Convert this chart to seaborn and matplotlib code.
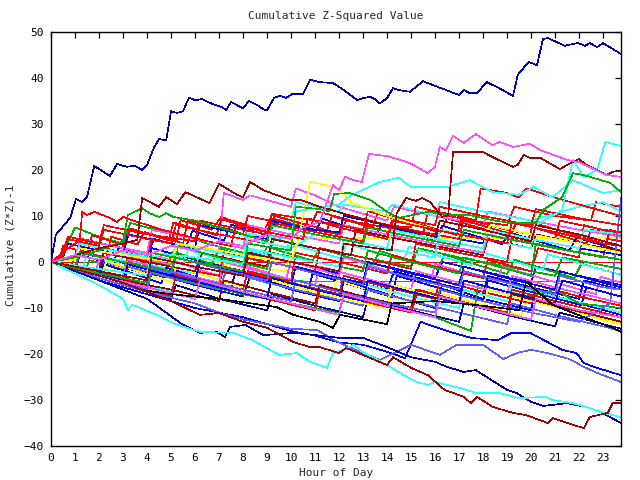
import matplotlib
matplotlib.use("Agg")
import matplotlib.pyplot as plt
import seaborn as sns
import pandas as pd

# ---------------- data ----------------
blue_top_t = [0, 0.2, 0.8, 1.04, 1.3, 1.5, 1.8, 2.46, 2.75, 3.15, 3.5, 3.8, 4.0, 4.3, 4.5, 4.8, 5.0, 5.25, 5.5, 5.75,
              6.0, 6.3, 6.75, 7.15, 7.3, 7.5, 8.0, 8.25, 8.6, 8.85, 9.0, 9.3, 9.55, 9.8, 10.05, 10.5, 10.8, 11.2, 11.75, 12.2,
              12.75, 13.0, 13.3, 13.5, 13.7, 14.0, 14.25, 14.45, 14.96, 15.5, 16.0, 17.0, 17.2, 17.45, 17.75, 18.15, 18.6, 19.25, 19.45, 19.9,
              20.25, 20.5, 20.7, 21.4, 21.95, 22.25, 22.45, 22.75, 23.0, 23.75]
blue_top_v = [0, 5.9, 9.6, 13.7, 13.0, 14.1, 20.9, 18.7, 21.3, 20.7, 20.9, 20.0, 21.1, 25.0, 26.7, 26.5, 32.8, 32.4, 32.8, 35.7,
              35.2, 35.4, 34.3, 33.6, 33.0, 34.8, 33.4, 35.0, 34.1, 33.2, 33.0, 35.7, 36.1, 35.7, 36.5, 36.5, 39.6, 39.1, 38.9, 37.4,
              35.2, 35.6, 35.9, 35.4, 34.5, 35.6, 37.8, 37.4, 37.0, 39.3, 38.3, 36.3, 37.4, 36.7, 36.7, 39.1, 38.0, 36.1, 40.7, 43.5,
              42.8, 48.5, 48.7, 47.0, 47.6, 47.0, 47.6, 46.7, 47.6, 45.2]

magenta_top_t = [0, 1, 2, 3, 4, 5, 6, 7, 8, 9, 10, 10.5, 11.2, 11.75, 12.0, 12.25, 12.6, 12.95, 13.25, 14.05,
                 14.96, 15.7, 16.0, 16.2, 16.45, 16.75, 17.2, 17.7, 18.4, 18.7, 19.25, 19.95, 20.4, 21.5, 22.0, 23.15, 23.75]
magenta_top_v = [0, 1.5, 0.5, 2.5, 1.5, 3.5, 2.5, 4.5, 3.5, 6, 5, 7.5, 8.7, 16.7, 15.6, 18.5, 17.8, 17.4, 23.5, 23.0,
                 21.5, 19.3, 20.7, 25.0, 24.3, 27.4, 25.9, 27.8, 25.4, 26.1, 25.0, 25.7, 24.3, 22.2, 21.7, 18.9, 18.5]

darkred_top_t = [0, 2, 4, 4.2, 6, 8, 8.2, 10, 12, 12.2, 14.2, 14.4, 14.8, 15.2, 15.45, 15.8, 16.3, 16.55, 16.75, 18.0,
                 18.4, 19.25, 19.45, 19.7, 19.96, 20.4, 21.2, 21.5, 22.0, 22.3, 23.15, 23.4, 23.75]
darkred_top_v = [0, -2, -4, 1, -1, -3, 2, 0, -2, 4, 2.5, 10.6, 13.9, 13.3, 13.9, 13.0, 9.8, 10.2, 23.9, 23.9,
                 22.8, 20.7, 21.1, 23.3, 22.6, 22.6, 20.2, 21.1, 22.4, 21.1, 18.9, 19.6, 19.8]

darkred_mid_t = [0, 1, 2, 3, 3.6, 3.8, 4.5, 4.8, 5.25, 5.6, 6.6, 7.0, 7.75, 8.0, 8.3, 8.85, 9.96, 10.4, 11.2, 11.7,
                 12.25, 14, 16, 16.2, 18, 20, 20.2, 22, 23.75]
darkred_mid_v = [0, 1.5, 3, 4, 4.8, 13.9, 12.0, 14.1, 12.6, 15.2, 12.8, 17.0, 14.6, 14.1, 17.4, 15.6, 13.5, 13.5, 12.0, 11.3,
                 10.4, 8, 5.5, 9, 7, 4.5, 8, 6, 3.5]

red_hi_t = [0, 0.6, 1.2, 1.3, 1.5, 1.8, 2.45, 2.75, 3.0, 3.5, 4.5, 5.5, 6.5, 7.5, 7.7, 9, 10.5, 10.7, 12, 14,
            14.2, 16, 18, 19, 19.2, 21, 23, 23.75]
red_hi_v = [0, 2.5, 4.8, 10.9, 10.2, 10.9, 9.6, 8.7, 9.8, 8.9, 7.2, 5.8, 4.5, 3.5, 8, 6.5, 5, 9.5, 7.5, 5,
            9, 7, 5, 4, 8.5, 6.5, 4, 3.5]

green_hi_t = [0, 1, 2, 3.0, 3.2, 3.8, 4.1, 4.5, 4.8, 5.1, 6, 7, 8, 9, 9.2, 11, 13, 13.2, 15, 17, 17.2, 19, 21, 23.75]
green_hi_v = [0, 1, 2.5, 4.5, 10.2, 11.7, 10.6, 9.8, 10.6, 9.8, 9, 7.5, 6, 4.5, 8, 6, 4, 7.5, 5.5, 3.5, 7, 5, 3, 0.5]

green_late_t = [0, 2, 4, 4.2, 6, 8, 8.2, 10, 10.2, 11.2, 11.6, 11.8, 12.45, 13.3, 14.0, 14.5, 15.7, 16.6, 17.45, 18.4,
                19.1, 20.2, 20.5, 21.3, 21.75, 22.2, 23.3, 23.75]
green_late_v = [0, -2.5, -4.5, 2, 0, -2, 4, 2.5, 12, 11.5, 11, 14.8, 15.0, 13.5, 10.9, 9.6, 10.9, 10.2, 10.2, 9.1,
                8.5, 8.5, 11.3, 14.1, 19.3, 18.9, 17.2, 15.2]

cyan_end_t = [0, 2, 4, 4.2, 6, 8, 8.2, 10, 12, 12.2, 14, 16, 16.2, 18, 20, 20.2, 21.3, 21.75, 22.2, 22.75, 23.1, 23.75]
cyan_end_v = [0, -2, -4, 1, -1, -3, 3, 1, -1, 5, 3, 1, 7, 5, 3, 8, 11.3, 22.2, 18.5, 20, 26.1, 25.2]

cyan_mid_t = [0, 2, 4, 4.2, 6, 8, 8.2, 10, 10.2, 12, 12.5, 13.7, 14.5, 15.0, 16.5, 17.45, 18.4, 19.5, 20.1, 20.9,
              21.75, 23.0, 23.75]
cyan_mid_v = [0, -1.5, -3, 2, 1, -0.5, 6, 5, 11, 12.5, 14.5, 17.4, 18.3, 16.3, 16.3, 17.8, 15.2, 14.6, 16.3, 14.1,
              17.8, 15.0, 15.6]

darkred_bot_t = [0, 1, 2, 3, 4, 5, 6.2, 7.0, 8, 9, 10.1, 10.8, 11.2, 12, 12.3, 13, 14, 14.25, 15, 15.7,
                 16.4, 17.2, 17.5, 17.75, 18.4, 19.25, 19.8, 20.7, 20.9, 21.75, 22.2, 22.45, 23.2, 23.4, 23.75]
darkred_bot_v = [0, -1.5, -3, -4.5, -6.5, -8.5, -11.5, -11.1, -13, -14.3, -17.4, -18.5, -18.5, -19.8, -18.7, -20.2, -22.4, -20.7, -23.0, -24.6,
                 -27.8, -29.3, -30.7, -29.3, -31.5, -32.8, -33.3, -35.0, -33.9, -35.4, -36.1, -33.7, -32.8, -30.7, -30.7]

cyan_bot_t = [0, 1, 2, 3.0, 3.2, 3.4, 4.4, 5.1, 6.2, 7.6, 8.4, 9.5, 10.25, 10.8, 11.5, 11.75, 12.2, 12.6, 13.0, 14.0,
              14.7, 15.25, 15.7, 16.0, 17.05, 17.75, 18.7, 19.5, 20.6, 20.9, 21.75, 22.3, 23.0, 23.75]
cyan_bot_v = [0, -2.5, -5, -8, -10.4, -9.3, -11.5, -13.3, -15.2, -15.4, -17.0, -20.2, -19.8, -21.7, -23.0, -19.8, -19.1, -18.0, -19.6, -22.4,
              -24.6, -26.1, -26.7, -26.1, -27.4, -28.5, -28.5, -29.6, -29.3, -30.0, -30.7, -31.5, -32.8, -33.7]

navy_bot_t = [0, 2, 4, 5.4, 6.2, 6.9, 7.25, 7.46, 8.1, 8.85, 10.1, 11.2, 12, 13, 14, 15, 16, 16.5, 17.2, 17.7,
              19, 19.4, 20, 20.5, 21.5, 22.3, 22.9, 23.75]
navy_bot_v = [0, -4, -8, -13.3, -15.4, -15.2, -16.3, -14.1, -13.7, -15.9, -15.4, -16, -16.5, -16.5, -18.5, -20.7, -21.7, -22.8, -23.9, -23.5,
              -27.8, -28.5, -30.4, -31.3, -30.7, -31.5, -32.6, -35]

lblue_bot_t = [0, 2, 4, 6, 7, 8, 9, 10, 11.1, 11.8, 12.2, 13.7, 14.3, 15, 16.2, 16.9, 18, 18.85, 19.4, 20,
               20.7, 21.6, 22.2, 22.75, 23.75]
lblue_bot_v = [0, -3.5, -6.5, -9, -11, -12.5, -13.5, -14.5, -14.8, -17, -18, -21.3, -19.8, -18, -20.2, -18, -18, -21.1, -19.8, -19.1,
               -19.8, -21.1, -22.8, -24.1, -26.1]

blue_low_t = [0, 2, 4, 6, 8, 9, 10, 11, 12, 13, 14, 14.75, 15.4, 16.5, 17.5, 18.6, 19.2, 20, 21.3, 21.9, 22.2, 22.75, 23.3, 23.75]
blue_low_v = [0, -4, -7, -10, -12, -13.5, -15, -16, -17.5, -18, -19.5, -20.9, -13, -15, -16.5, -17, -15.4, -15.5, -19.1, -19.8, -22, -23, -23.9, -24.6]

black_t = [0, 2, 3.7, 5, 7, 9.4, 10.1, 11.2, 11.75, 12.05, 13, 14, 14.2, 16, 18, 19.5, 19.8, 20.9, 22.3, 23.4, 23.75]
black_v = [0, -3.5, -6, -7, -8, -9.8, -11.5, -13, -14.3, -11.5, -12.5, -13.5, -9, -8.5, -9.5, -10.5, -4.3, -9.3, -12.2, -14.3, -15.2]

red_zero_t = [0, 23.75]
red_zero_v = [0, 0]

yellow_flat_t = [0, 2, 4, 4.3, 6, 8, 9.8, 10, 23.75]
yellow_flat_v = [0, -1.5, -3, 2, 0.5, -1, -2, 5.2, 5.2]

green_flat_t = [0, 1, 2, 4, 4.2, 6, 8, 8.2, 10, 10.5, 23.75]
green_flat_v = [0, -1.5, -3, -5, -1, -3.5, -6, -2, -4, -4.2, -4.2]

yellow_peak_t = [0, 1, 1.2, 3, 5, 5.3, 7, 8, 10, 10.3, 10.8, 12, 12.5, 13, 14, 15, 16, 18, 18.3, 20, 22, 23.75]
yellow_peak_v = [0, 0.5, 3, 1.5, 0, 4, 2.5, 1.5, 0, 5, 17.5, 16, 13, 12, 10, 8.5, 7, 5, 8, 6, 4, 2]

# mass of ordinary walks
m01_t = [0, 1, 1.3, 3, 3.2, 5, 5.5, 5.7, 7.5, 8, 8.2, 10, 12, 12.3, 14, 15.5, 15.7, 17.5, 19, 19.3, 21, 22.5, 22.7, 23.75]
m01_v = [0, 1.5, 5, 3, 7, 5, 4, 9, 7, 6, 10, 8, 6, 9, 7.5, 6, 11, 9, 8, 12, 10, 9, 13, 12]
m02_t = [0, 1, 1.2, 2.5, 4, 4.2, 6, 8, 8.3, 10, 12, 12.2, 14, 16, 16.3, 18, 20, 20.2, 22, 23.75]
m02_v = [0, -1.5, 2, 0.5, -1.5, 3, 0.5, -2, 2, 0, -2.5, 1, -1, -3.5, 0, -2, -4.5, -1, -3, -5]
m03_t = [0, 0.5, 1.0, 2, 3, 3.3, 4, 5, 6, 6.5, 8, 9, 9.3, 11, 13, 15, 15.3, 17, 19, 21, 21.3, 23.75]
m03_v = [0, 2, 7.5, 5.5, 4, 8.5, 7.5, 6.5, 5, 4, 2, 1, 5, 3, 1, -1, 3, 1, -1, -3, 1, -1.5]
m04_t = [0, 1, 2, 2.2, 4, 5, 5.2, 7, 7.2, 8, 8.3, 10, 10.2, 11, 12, 13, 14, 14.3, 16, 18, 18.2, 20, 22, 23.75]
m04_v = [0, -1, -2, 2, 0.5, -0.5, 4, 2.5, 15, 13.5, 14.5, 12, 16, 14.5, 12, 10.5, 9, 12, 10, 8, 11, 9, 7, 5.5]
m05_t = [0, 2, 2.2, 4, 6, 6.2, 8, 8.2, 10, 10.2, 12, 12.2, 14, 14.2, 15, 16, 16.2, 18, 19, 20, 22, 23, 23.75]
m05_v = [0, -2, 1, -0.5, -2.5, 3, 1, 6, 9, 13, 11, 12.5, 11, 12.5, 11.5, 10, 13, 11, 10, 9, 12, 13, 11]
m06_t = [0, 1, 2, 2.2, 4, 4.2, 6, 6.2, 8, 9, 9.2, 11, 12, 12.2, 14, 15, 15.2, 16, 17, 17.7, 17.9, 19, 19.5, 19.8, 21, 22, 23.75]
m06_v = [0, -1, -1.8, 3, 1, 5, 3, 8, 6, 5, 9.5, 7, 6, 10, 8, 7.5, 12, 11, 10, 9, 16, 15, 14, 16, 14, 12.5, 10]
m07_t = [0, 1, 2, 3, 3.2, 5, 6, 6.2, 8, 10, 10.2, 12, 14, 14.3, 16, 18, 18.2, 20, 22, 22.2, 23.75]
m07_v = [0, -2, -4, -5.5, -1.5, -3.5, -5, 0, -2.5, -5, -1, -3.5, -6, -2, -4.5, -7, -3, -5.5, -8, -4, -6]
m08_t = [0, 1, 2, 3, 3.2, 5, 7, 7.2, 9, 11, 11.2, 13, 15, 15.2, 17, 19, 19.2, 21, 23, 23.2, 23.75]
m08_v = [0, -1, -2, -3.5, 1, -1, -3, 2, 0, -2, 3, 1, -1.5, 4, 2, 0, 5, 3, 1, 5, 4.5]
m09_t = [0, 1, 2, 2.2, 4, 6, 6.3, 8, 9, 9.2, 11, 12.5, 12.7, 14, 16, 18, 18.2, 20, 20.2, 22, 23.75]
m09_v = [0, -1, -2, 2, 0, -2, 2, 0, -1, 5, 3, 1.5, 7, 5.5, 3.5, 1.5, 5, 3, 6, 4, 2.5]
m10_t = [0, 1, 2, 4, 4.2, 6, 8, 8.3, 10, 12, 12.2, 14, 16, 16.3, 18, 20, 20.2, 22, 23.75]
m10_v = [0, -2, -3.5, -6.5, -2, -5, -7.5, -3, -6, -8.5, -4, -7, -10, -5, -8, -10.5, -6, -9, -11.5]
m11_t = [0, 1, 1.2, 3, 4, 4.2, 6, 8, 8.2, 10, 12, 12.2, 14, 16, 18, 18.2, 20, 22, 23.75]
m11_v = [0, 0.5, 5, 3, 2, 7, 5, 3, 8, 6, 4, 8, 6, 4, 2, 6, 4, 2, 0.5]
m12_t = [0, 1, 3, 3.2, 5, 7, 7.2, 9, 10, 10.2, 12, 14, 14.2, 16, 18, 18.2, 20, 20.3, 22, 22.2, 23.75]
m12_v = [0, -1.5, -4, 0, -2.5, -5, -1, -3.5, -4, 2, 0, -2.5, 1.5, -1, -3.5, 0.5, -2, 3, 1, 8, 6]
m13_t = [0, 1, 3, 5, 5.2, 7, 9, 9.2, 11, 13, 13.2, 15, 17, 17.2, 19, 19.2, 21, 23, 23.75]
m13_v = [0, -1.5, -4, -6.5, -3, -5.5, -8, -4, -6.5, -9, -5, -7.5, -10, -6, -8.5, -5, -7.5, -10, -11]
m14_t = [0, 0.5, 0.7, 2, 3, 3.2, 5, 6, 6.2, 8, 9, 9.2, 11, 12, 12.2, 14, 16, 18, 18.2, 20, 22, 23.75]
m14_v = [0, 1, 4, 2.5, 1.5, 6, 4, 3, 8, 6, 5, 9, 7, 6.5, 10, 8, 6, 4, 7, 5, 3, 1.5]
m15_t = [0, 1, 2, 3, 3.2, 5, 7, 7.3, 9, 11, 13, 13.2, 15, 17, 19, 19.2, 21, 23, 23.75]
m15_v = [0, -1.5, -3, -4, -1, -3.5, -6, -2, -4.5, -7, -9.5, -6, -8.5, -11, -13.5, -9, -11.5, -14, -15]
m16_t = [0, 2, 4, 4.2, 6, 8, 10, 12, 12.2, 14, 16, 17.5, 17.8, 19, 20, 21, 22, 23.75]
m16_v = [0, -3, -6, -2, -4.5, -7, -9, -11, -7, -9.5, -12, -15, -5, -6.5, -7.5, -6, -9, -10]
m17_t = [0, 1, 2, 4, 4.2, 6, 8, 8.2, 10, 12, 12.2, 14, 16, 16.2, 18, 20, 20.2, 22, 23.75]
m17_v = [0, -1, -2.5, -5, -1, -3.5, -6, -2, -4.5, -7, -3, -5.5, -8, -4, -6.5, -9, -5, -7.5, -9.5]
m18_t = [0, 1, 3, 5, 5.2, 7, 9, 9.2, 11, 13, 13.2, 15, 17, 17.2, 19, 21, 21.2, 23, 23.75]
m18_v = [0, -2, -5, -8, -5, -8, -10.5, -7, -9.5, -12, -8, -10.5, -13, -9, -11.5, -14, -11, -13.5, -14.5]
m19_t = [0, 1, 3, 3.2, 5, 7, 7.2, 9, 11, 11.2, 13, 15, 15.2, 17, 19, 19.2, 21, 23, 23.75]
m19_v = [0, -1, -3, 0.5, -2, -4.5, 0, -2.5, -5, -1, -3.5, -6, -2, -4.5, -7, -3, -5.5, -8, -9]
m20_t = [0, 0.5, 0.7, 2, 2.2, 4, 5, 5.2, 7, 9, 9.2, 11, 13, 13.2, 15, 17, 17.2, 19, 21, 21.2, 23, 23.75]
m20_v = [0, 1.5, 5, 3.5, 7, 5, 4, 8, 6, 4, 8.5, 6.5, 4.5, 9, 7, 5, 9.5, 7, 5, 9, 7, 6.5]
m21_t = [0, 2, 2.2, 4, 6, 6.2, 8, 10, 10.2, 12, 13, 13.2, 15, 17, 17.2, 19, 21, 21.2, 23, 23.75]
m21_v = [0, -3, 1, -1.5, -4, 0, -2.5, -5, -1, -3.5, -4.5, 0, -2.5, -5, -1, -3.5, -6, -2, -4.5, -5.5]
m22_t = [0, 1, 3, 5, 5.2, 7, 9, 9.2, 11, 13, 14, 14.2, 16, 18, 18.2, 20, 22, 23.75]
m22_v = [0, -1.5, -4.5, -7, -3, -5.5, -8, -4, -6.5, -9, -10, -5, -7.5, -10, -6, -8.5, -11, -13.5]
m23_t = [0, 1, 1.2, 3, 5, 5.2, 7, 8, 8.2, 10, 11, 12, 14, 14.2, 16, 18, 18.2, 20, 22, 22.2, 23.75]
m23_v = [0, 0.5, 4, 2, 0, 4, 2, 1, 5, 3, 6, 5, 3, 7, 5, 3, 7, 5, 3, 7, 6]
m24_t = [0, 1, 3, 5, 7, 7.2, 9, 11, 11.2, 13, 15, 15.2, 17, 19, 19.2, 21, 23, 23.75]
m24_v = [0, -1.5, -4, -6, -8.5, -4, -6.5, -9, -5, -7.5, -10, -6, -8.5, -11, -7, -9.5, -12, -13]
m25_t = [0, 1, 1.2, 3, 5, 5.2, 7, 9, 9.2, 11, 13, 13.2, 15, 17, 17.2, 19, 21, 21.2, 23, 23.75]
m25_v = [0, -1, 2, 0, -2.5, 1, -1.5, -4, 0, -2.5, -5, -1, -3.5, -6, -2, -4.5, -7, -3, -5.5, -6]
m26_t = [0, 2, 4, 4.2, 6, 8, 10, 10.2, 12, 14, 16, 16.2, 18, 20, 22, 23.3, 23.75]
m26_v = [0, -3, -6, -1, -3.5, -6, -8.5, -4, -6.5, -9, -11, -6, -8.5, -11, -13, -9, 14]
m27_t = [0, 1, 1.2, 3, 5, 5.3, 7, 9, 9.2, 11, 13, 13.2, 15, 17, 17.2, 19, 20, 20.2, 22, 23.75]
m27_v = [0, -1.5, 2, 0, -2, 3.5, 1, -1.5, 2, 0, -2, 2.5, 0, -2.5, 1, -1.5, -3, 4, 2, 0.5]
m28_t = [0, 1, 3, 5, 5.2, 7, 9, 11, 11.2, 13, 15, 15.3, 17, 19, 19.2, 21, 23, 23.75]
m28_v = [0, -2, -5, -7.5, -3, -5.5, -8, -10.5, -6, -8.5, -11, -6, -8.5, -11, -6, -8.5, -11, -12]
m29_t = [0, 1, 3, 3.2, 5, 7, 9, 9.2, 11, 13, 13.2, 15, 17, 17.2, 19, 21, 21.3, 23, 23.75]
m29_v = [0, -1.5, -4, -0.5, -3, -5.5, -8, -3.5, -6, -8.5, -4, -6.5, -9, -4, -6.5, -9, -4, -6.5, -7.5]
m30_t = [0, 2, 4, 6, 6.2, 8, 10, 12, 12.2, 14, 16, 16.2, 18, 20, 20.2, 22, 23.75]
m30_v = [0, -3, -5.5, -8, -4, -6.5, -9, -11.5, -7, -9.5, -12, -7.5, -10, -12.5, -8, -10.5, -12]
m31_t = [0, 0.5, 0.7, 2, 2.2, 4, 6, 6.2, 8, 9, 9.2, 11, 13, 13.2, 15, 16, 16.2, 18, 20, 20.2, 22, 23.75]
m31_v = [0, 2, 5.5, 4, 8, 6, 4.5, 9, 7, 6, 10.5, 9, 7, 11, 9, 8, 12, 10, 8, 11.5, 9.5, 8]

n01_t = [0, 0.4, 0.8, 1.1, 1.3, 1.8, 2.3, 2.5, 3.1, 3.6, 3.9, 4.5, 5.2, 5.4, 6, 6.7, 7.1, 7.4, 8.2, 8.9,
         9.2, 10, 10.8, 11.1, 12.5, 13.4, 13.6, 15, 16.2, 16.5, 18, 19.1, 19.4, 21, 22.3, 22.5, 23.75]
n01_v = [0, -0.5, -1.2, 2.8, 2.4, 1.6, 0.9, 5.5, 4.6, 3.8, 6.5, 5.6, 4.4, 9.1, 8.2, 7.0, 9.8, 9.2, 8.0, 6.9,
         10.2, 9.0, 7.7, 11.0, 9.0, 7.6, 10.5, 8.3, 6.4, 9.5, 7.2, 5.5, 8.6, 6.1, 4.0, 7.0, 5.8]
n02_t = [0, 0.3, 0.7, 1.0, 1.2, 1.7, 2.2, 2.6, 2.8, 3.4, 4.0, 4.3, 5.0, 5.6, 5.9, 6.5, 7.2, 7.5, 8.3, 9.0,
         9.4, 10.2, 11.0, 11.3, 12.4, 13.5, 13.8, 15.1, 16.0, 16.3, 17.6, 18.8, 19.1, 20.5, 21.6, 21.9, 23.0, 23.75]
n02_v = [0, -0.6, -1.4, -1.9, 1.5, 0.8, 0.1, -0.6, 3.2, 2.4, 1.5, 5.0, 4.0, 3.1, 6.8, 5.8, 4.7, 8.1, 6.9, 5.8,
         9.0, 7.8, 6.6, 9.4, 7.6, 5.9, 8.2, 6.2, 4.8, 7.9, 5.8, 3.9, 6.4, 4.2, 2.5, 5.3, 3.6, 2.4]
n03_t = [0, 0.5, 1.0, 1.4, 1.6, 2.3, 3.0, 3.3, 4.1, 4.8, 5.1, 5.9, 6.7, 7.0, 7.9, 8.7, 9.0, 10.0, 10.9, 11.2,
         12.3, 13.4, 13.7, 15.0, 16.1, 16.4, 17.8, 19.0, 19.3, 20.6, 21.8, 22.1, 23.75]
n03_v = [0, -0.8, -1.7, -2.4, 0.4, -0.6, -1.7, 1.6, 0.4, -0.8, 2.2, 0.9, -0.4, 2.9, 1.4, 0.1, 3.3, 1.7, 0.3, 3.0,
         1.2, -0.6, 2.4, 0.3, -1.5, 1.6, -0.7, -2.6, 0.5, -1.6, -3.5, -0.4, -2.8]
n04_t = [0, 0.6, 1.2, 1.8, 2.0, 2.8, 3.6, 4.3, 4.5, 5.4, 6.2, 7.0, 7.2, 8.1, 9.0, 9.8, 10.0, 11.0, 12.0, 12.2,
         13.4, 14.6, 15.8, 16.0, 17.3, 18.6, 18.8, 20.1, 21.4, 22.7, 22.9, 23.75]
n04_v = [0, -1.0, -2.1, -3.2, 0.5, -0.8, -2.0, -3.1, 1.2, -0.3, -1.7, -3.0, 0.8, -0.8, -2.3, -3.6, 0.2, -1.4, -3.0, 1.0,
         -0.9, -2.8, -4.6, -0.4, -2.4, -4.4, -1.0, -3.0, -5.0, -7.0, -3.2, -4.5]
n05_t = [0, 0.5, 1.0, 1.5, 2.0, 2.2, 3.0, 3.8, 4.6, 4.8, 5.7, 6.6, 7.5, 7.7, 8.7, 9.7, 10.7, 10.9, 12.0, 13.1,
         14.2, 14.4, 15.6, 16.8, 18.0, 18.2, 19.5, 20.8, 22.1, 22.3, 23.75]
n05_v = [0, -0.9, -1.9, -2.9, -3.9, -0.5, -1.8, -3.2, -4.6, -1.2, -2.7, -4.2, -5.7, -2.0, -3.6, -5.2, -6.8, -2.5, -4.2, -5.9,
         -7.6, -3.0, -4.8, -6.6, -8.4, -4.0, -5.8, -7.6, -9.4, -5.5, -7.5]
n06_t = [0, 0.3, 0.5, 1.0, 1.5, 1.7, 2.4, 3.1, 3.3, 4.1, 4.9, 5.1, 6.0, 6.9, 7.1, 8.1, 9.1, 9.3, 10.4, 11.5,
         11.7, 12.9, 14.1, 14.3, 15.6, 16.9, 17.1, 18.5, 19.9, 20.1, 21.6, 23.1, 23.3, 23.75]
n06_v = [0, -0.5, 3.5, 2.7, 1.9, 5.8, 4.7, 3.6, 7.3, 6.0, 4.7, 8.6, 7.2, 5.8, 9.3, 7.8, 6.3, 10.1, 8.5, 6.9,
         10.0, 8.2, 6.4, 9.7, 7.8, 5.9, 9.2, 7.1, 5.0, 8.5, 6.2, 3.9, 7.0, 6.3]
n07_t = [0, 0.4, 0.8, 1.3, 1.5, 2.2, 2.9, 3.1, 3.9, 4.7, 5.5, 5.7, 6.6, 7.5, 7.7, 8.7, 9.7, 9.9, 11.0, 12.1,
         12.3, 13.5, 14.7, 14.9, 16.2, 17.5, 17.7, 19.1, 20.5, 20.7, 22.2, 23.75]
n07_v = [0, -0.6, -1.2, -1.9, 1.8, 0.8, -0.2, 3.0, 1.8, 0.6, -0.6, 2.6, 1.3, 0.0, 3.4, 1.9, 0.4, 4.1, 2.4, 0.7,
         4.0, 2.2, 0.4, 3.3, 1.3, -0.7, 2.5, 0.4, -1.7, 1.7, -0.6, -2.8]
n08_t = [0, 0.7, 1.4, 2.1, 2.3, 3.2, 4.1, 5.0, 5.2, 6.2, 7.2, 8.2, 8.4, 9.5, 10.6, 11.7, 11.9, 13.1, 14.3, 15.5,
         15.7, 17.0, 18.3, 19.6, 19.8, 21.2, 22.6, 23.75]
n08_v = [0, -1.1, -2.2, -3.3, 0.2, -1.3, -2.8, -4.3, -1.0, -2.6, -4.2, -5.8, -2.5, -4.2, -5.9, -7.6, -4.0, -5.8, -7.6, -9.4,
         -6.0, -7.9, -9.8, -11.7, -8.0, -10.0, -12.0, -13.6]

series_names = ["red_zero", "green_flat", "yellow_flat",
                "m01", "n01", "m02", "n02", "m03", "n03", "m04", "n04", "m05", "n05", "m06", "n06",
                "m07", "n07", "m08", "n08", "m09", "m10", "m11", "m12", "m13",
                "m14", "m15", "m16", "m17", "m18", "m19", "m20", "m21", "m22", "m23", "m24", "m25", "m26",
                "m27", "m28", "m29", "m30", "m31",
                "yellow_peak", "black", "blue_low", "lblue_bot", "navy_bot", "cyan_bot", "darkred_bot",
                "cyan_mid", "cyan_end", "green_late", "green_hi", "red_hi", "darkred_mid", "darkred_top",
                "magenta_top", "blue_top"]

# ---------------- styles ----------------
RED, GREEN, BLUE = "#ff0000", "#00b000", "#0000ff"
MAG, CYAN, DRED = "#ff50ff", "#30ffff", "#a00000"
YEL, BLK, NAVY, LBLUE = "#ffff00", "#000000", "#0000a8", "#6060ff"
colors = {
    "red_zero": RED, "green_flat": GREEN, "yellow_flat": YEL,
    "m01": RED, "m02": BLUE, "m03": GREEN, "m04": MAG, "m05": CYAN, "m06": RED, "m07": BLUE,
    "m08": RED, "m09": DRED, "m10": BLUE, "m11": MAG, "m12": RED, "m13": CYAN, "m14": BLUE,
    "m15": LBLUE, "m16": GREEN, "m17": RED, "m18": NAVY, "m19": MAG, "m20": RED, "m21": BLUE,
    "m22": YEL, "m23": CYAN, "m24": DRED, "m25": LBLUE, "m26": LBLUE, "m27": GREEN, "m28": RED,
    "m29": BLUE, "m30": MAG, "m31": RED,
    "n01": RED, "n02": BLUE, "n03": GREEN, "n04": MAG, "n05": BLUE, "n06": RED, "n07": CYAN, "n08": YEL,
    "yellow_peak": YEL, "black": BLK, "blue_low": BLUE, "lblue_bot": LBLUE, "navy_bot": NAVY,
    "cyan_bot": CYAN, "darkred_bot": DRED, "cyan_mid": CYAN, "cyan_end": CYAN,
    "green_late": GREEN, "green_hi": GREEN, "red_hi": RED, "darkred_mid": DRED,
    "darkred_top": DRED, "magenta_top": MAG, "blue_top": NAVY,
}

rows = []
g = globals()
for name in series_names:
    ts, vs = g[name + "_t"], g[name + "_v"]
    assert len(ts) == len(vs), name
    for t, v in zip(ts, vs):
        rows.append((name, t, v))
df = pd.DataFrame(rows, columns=["series", "hour", "value"])

sns.set_style("white")
plt.rcParams["font.family"] = ["DejaVu Sans Mono", "DejaVu Sans"]
plt.rcParams["lines.antialiased"] = False

fig = plt.figure(figsize=(6.4, 4.8), dpi=100)
ax = fig.add_axes([51 / 640, 34 / 480, 570 / 640, 414 / 480])

sns.lineplot(data=df, x="hour", y="value", hue="series", hue_order=series_names,
             palette=colors, estimator=None, sort=False, legend=False,
             linewidth=0.45, ax=ax)

ax.set_xlim(0, 23.75)
ax.set_ylim(-40, 50)
ax.set_xticks(range(0, 24))
ax.set_yticks(range(-40, 51, 10))
ax.tick_params(direction="in", length=4.5, width=0.9, top=True, right=True,
               labelsize=8, pad=5, colors="black")
for sp in ax.spines.values():
    sp.set_visible(True)
    sp.set_color("black")
    sp.set_linewidth(1.0)
ax.set_xlabel("")
ax.set_ylabel("")

fig.text(0.525, 0.967, "Cumulative Z-Squared Value", ha="center", va="center", fontsize=8)
fig.text(0.525, 0.015, "Hour of Day", ha="center", va="center", fontsize=8)
fig.text(0.017, 0.49, "Cumulative (Z*Z)-1", ha="center", va="center", rotation=90, fontsize=8)

fig.savefig("out.png", dpi=100)
